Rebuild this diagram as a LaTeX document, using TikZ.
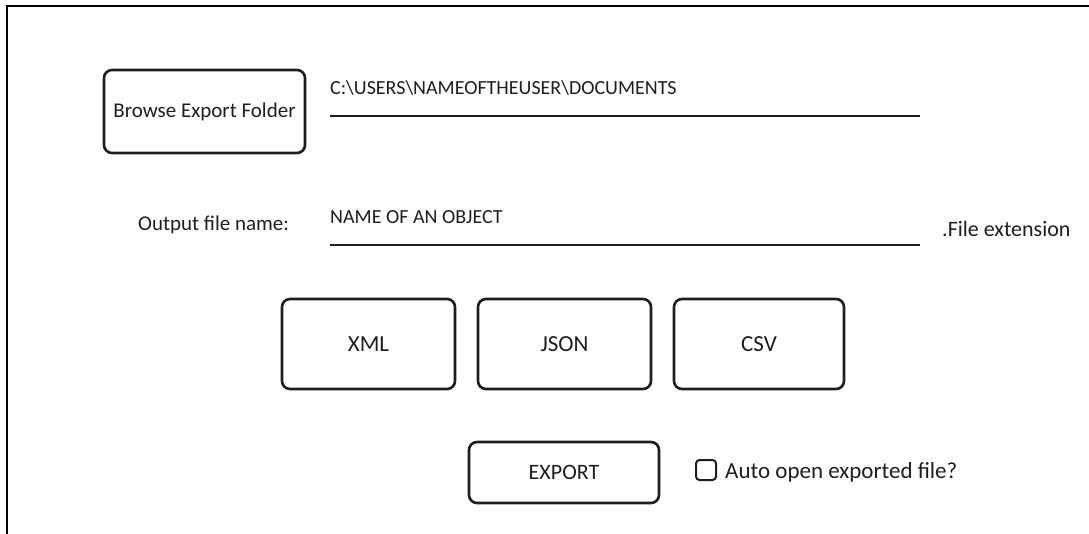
\documentclass[tikz,border=0pt]{standalone}
\usepackage{fontspec}
\setmainfont{Carlito}
\definecolor{ink}{HTML}{1E1E1E}
\begin{document}
\begin{tikzpicture}[x=1pt,y=-1pt,
  btn/.style={draw=ink, line width=2.6pt, rounded corners=8pt, inner sep=0pt, font=\fontsize{23}{27}\selectfont, text=ink},
  lbl/.style={font=\fontsize{21}{25}\selectfont, text=ink, inner sep=0pt},
  field/.style={font=\fontsize{20}{24}\selectfont, text=ink, inner sep=0pt, anchor=west},
  uline/.style={draw=ink, line width=2pt},
  frame/.style={draw=black, line width=2pt}]
\useasboundingbox (0,0) rectangle (1089,534);
% frame
\coordinate (ftr) at (1089,6);
\coordinate (ftl) at (7,6);
\coordinate (fbl) at (7,534);
\draw[frame] (ftr) -- (ftl) -- (fbl);
% browse
\node[btn, font=\fontsize{21}{25}\selectfont, minimum width=201pt, minimum height=83pt] (browse) at (204.5,111.5) {Browse Export Folder};
\node[field] (path) at (330,88) {C:\textbackslash USERS\textbackslash NAMEOFTHEUSER\textbackslash DOCUMENTS};
\coordinate (pl1) at (330,116);
\coordinate (pl2) at (920,116);
\draw[uline] (pl1) -- (pl2);
% output name
\node[lbl, anchor=west] (outlbl) at (138,225) {Output file name:};
\node[field] (objname) at (330,217) {NAME OF AN OBJECT};
\coordinate (nl1) at (330,245);
\coordinate (nl2) at (920,245);
\draw[uline] (nl1) -- (nl2);
\node[lbl, font=\fontsize{22}{26}\selectfont, anchor=west] (ext) at (942,229) {.File extension};
% format buttons
\node[btn, minimum width=173pt, minimum height=90pt] (xml) at (368.5,344) {XML};
\node[btn, minimum width=173pt, minimum height=90pt] (json) at (564.5,344) {JSON};
\node[btn, minimum width=170pt, minimum height=90pt] (csv) at (759,344) {CSV};
% export
\node[btn, font=\fontsize{22}{26}\selectfont, minimum width=190pt, minimum height=61pt] (export) at (564,472.5) {EXPORT};
\node[draw=ink, line width=2pt, rounded corners=3.5pt, minimum size=20pt, inner sep=0pt] (chk) at (706,470) {};
\node[lbl, font=\fontsize{23}{27}\selectfont, anchor=west] (auto) at (725,472) {Auto open exported file?};
\end{tikzpicture}
\end{document}
